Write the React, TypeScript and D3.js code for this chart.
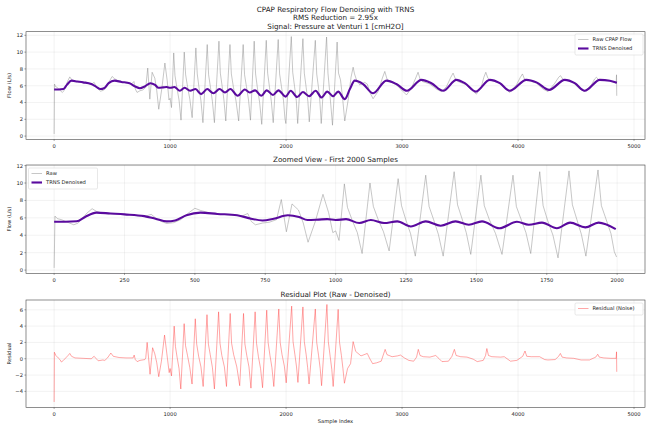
import React from 'react';
import * as d3 from 'd3';

type Pt = [number, number];

// raw CPAP flow as [sample, L/s]
const rawFlow: Pt[] = [
  [0, 0.25], [3, 6.2], [12, 5.9], [25, 5.8], [40, 5.6], [55, 5.4], [70, 5.2], [85, 5.4],
  [100, 5.9], [115, 6.5], [135, 7.05], [150, 6.75], [175, 6.5], [220, 6.45], [270, 6.35],
  [320, 6.15], [345, 6.4], [360, 6.0], [380, 5.6], [400, 5.35], [425, 5.45], [450, 5.8],
  [475, 6.5], [500, 7.1], [520, 6.85], [560, 6.5], [620, 6.35], [670, 6.25], [688, 6.5],
  [700, 5.6], [715, 5.2], [740, 5.4], [765, 5.5], [790, 5.8], [807, 8.1], [825, 4.4],
  [845, 7.6], [868, 6.9], [885, 5.4], [902, 3.2], [928, 5.6], [955, 8.7], [975, 6.6],
  [990, 4.3], [1000, 4.5], [1012, 3.4],
  [1031, 9.9], [1042, 7.2], [1058, 5.8], [1077, 4.3], [1094, 1.9],
  [1122, 10.0], [1134, 7.3], [1150, 5.9], [1170, 4.4], [1190, 2.2],
  [1222, 10.5], [1234, 7.4], [1250, 5.7], [1266, 4.2], [1283, 1.6],
  [1320, 10.9], [1332, 7.3], [1348, 5.8], [1365, 4.1], [1382, 1.6],
  [1421, 11.3], [1433, 7.5], [1449, 5.9], [1464, 4.3], [1480, 1.8],
  [1516, 10.9], [1528, 7.4], [1546, 5.8], [1568, 4.2], [1591, 1.8],
  [1630, 10.9], [1642, 7.3], [1658, 5.9], [1676, 4.3], [1693, 1.9],
  [1725, 11.3], [1737, 7.4], [1753, 5.7], [1772, 4.0], [1790, 1.4],
  [1829, 11.4], [1841, 7.5], [1857, 5.8], [1873, 4.1], [1889, 1.6],
  [1932, 11.5], [1944, 7.4], [1960, 5.9], [1978, 4.2], [1990, 2.1], [1998, 1.5],
  [2045, 11.85], [2057, 7.6], [2073, 5.9], [2088, 4.2], [2100, 1.5],
  [2145, 11.6], [2157, 7.5], [2173, 5.8], [2188, 4.1], [2200, 1.7],
  [2252, 11.4], [2264, 7.4], [2280, 5.7], [2292, 4.0], [2303, 1.5],
  [2349, 11.8], [2361, 7.5], [2377, 5.1], [2390, 3.0], [2400, 1.3],
  [2440, 11.2], [2452, 7.5], [2469, 6.7], [2486, 4.7], [2506, 1.8],
  [2535, 4.3], [2560, 7.0], [2578, 8.2], [2590, 7.4], [2607, 6.7], [2635, 6.1],
  [2678, 6.4], [2700, 6.2], [2722, 5.2], [2750, 4.45], [2793, 5.3], [2830, 6.9],
  [2851, 7.7], [2870, 6.8], [2894, 6.5], [2951, 6.1], [2995, 5.5], [3038, 4.9],
  [3081, 5.7], [3120, 7.0], [3138, 7.6], [3155, 6.8], [3176, 6.5], [3239, 6.2],
  [3296, 5.6], [3339, 5.3], [3383, 5.9], [3420, 7.0], [3440, 7.5], [3460, 6.8],
  [3483, 6.5], [3555, 6.1], [3598, 5.5], [3641, 5.0], [3684, 5.9], [3705, 7.0],
  [3722, 7.6], [3740, 6.9], [3756, 6.7], [3843, 6.3], [3886, 5.7], [3929, 5.2],
  [3986, 6.1], [4020, 7.0], [4038, 7.4], [4055, 6.8], [4078, 6.7], [4159, 6.3],
  [4216, 5.6], [4259, 5.3], [4317, 6.3], [4350, 7.0], [4366, 7.2], [4385, 6.8],
  [4403, 6.7], [4475, 6.4], [4532, 5.6], [4575, 5.3], [4633, 6.1], [4660, 6.8],
  [4676, 7.0], [4695, 6.7], [4719, 6.7], [4791, 6.6], [4846, 6.3], [4849, 7.3],
  [4851, 4.8],
];

// TRNS denoised output
const denoisedFlow: Pt[] = [
  [0, 5.55], [40, 5.55], [80, 5.6], [110, 6.1], [150, 6.6], [200, 6.5], [250, 6.4],
  [320, 6.2], [360, 5.9], [400, 5.6], [430, 5.7], [470, 6.3], [520, 6.6], [580, 6.45],
  [650, 6.3], [700, 5.9], [740, 5.7], [780, 5.9], [830, 6.3], [870, 6.1], [900, 5.75],
  [940, 5.8], [970, 5.85], [1000, 5.75], [1037, 5.85], [1084, 5.4], [1125, 5.75],
  [1172, 5.4], [1219, 5.6], [1267, 5.0], [1320, 5.6], [1373, 5.1], [1426, 5.6],
  [1473, 5.2], [1520, 5.6], [1582, 4.8], [1644, 5.55], [1686, 5.2], [1733, 5.45],
  [1786, 4.8], [1833, 5.45], [1887, 4.9], [1934, 5.45], [1995, 4.7], [2040, 5.4],
  [2095, 4.65], [2145, 5.25], [2198, 4.75], [2255, 5.4], [2306, 4.6], [2355, 5.3],
  [2405, 4.75], [2449, 5.3], [2506, 4.4], [2550, 5.6], [2592, 6.6], [2664, 6.2],
  [2750, 5.1], [2865, 6.6], [2951, 6.2], [3043, 5.4], [3167, 6.7], [3253, 6.3],
  [3354, 5.4], [3469, 6.7], [3541, 6.3], [3636, 5.3], [3756, 6.7], [3843, 6.3],
  [3929, 5.4], [4072, 6.7], [4159, 6.4], [4268, 5.5], [4403, 6.7], [4489, 6.3],
  [4575, 5.4], [4705, 6.7], [4791, 6.6], [4852, 6.35],
];

// residual (raw - denoised)
const residual: Pt[] = [
  [0, -5.3], [2, 0.8], [15, 0.4], [35, 0.1], [50, -0.1], [63, -0.4], [80, -0.2],
  [100, 0.1], [120, 0.4], [135, 0.65], [150, 0.3], [180, 0.1], [250, 0.05], [320, 0.0],
  [345, 0.3], [360, 0.05], [380, -0.25], [420, -0.15], [437, -0.2], [460, 0.1],
  [489, 0.7], [510, 0.3], [560, 0.15], [620, 0.1], [681, 0.1], [690, 0.45], [700, -0.1],
  [716, -0.35], [740, -0.2], [782, -0.1], [790, 0.1],
  [802, 2.0], [827, -1.9], [849, 1.35], [868, 0.6], [885, -0.5], [902, -2.2],
  [925, -0.3], [952, 2.9], [972, 0.6], [992, -1.7], [1000, -1.2], [1012, -2.1],
  [1035, 4.0], [1046, 1.5], [1060, 0.2], [1077, -1.2], [1092, -3.7],
  [1121, 4.3], [1133, 1.6], [1150, 0.4], [1170, -1.1], [1189, -3.1],
  [1217, 4.9], [1229, 1.8], [1246, 0.3], [1266, -1.0], [1285, -3.4],
  [1318, 5.4], [1330, 1.8], [1346, 0.5], [1365, -1.1], [1382, -3.7],
  [1418, 5.75], [1430, 1.9], [1446, 0.4], [1468, -1.0], [1486, -3.4],
  [1518, 5.55], [1530, 1.9], [1548, 0.5], [1575, -1.0], [1600, -3.3],
  [1633, 5.55], [1645, 1.8], [1661, 0.4], [1680, -1.0], [1697, -3.6],
  [1733, 5.75], [1745, 1.9], [1761, 0.3], [1780, -1.2], [1797, -3.55],
  [1833, 5.95], [1845, 2.0], [1861, 0.4], [1878, -1.1], [1894, -3.4],
  [1937, 6.1], [1949, 2.0], [1965, 0.5], [1985, -0.9], [2001, -2.95],
  [2048, 6.45], [2060, 2.1], [2076, 0.5], [2090, -1.0], [2102, -2.9],
  [2145, 6.35], [2157, 2.1], [2173, 0.5], [2186, -1.1], [2198, -3.1],
  [2252, 6.1], [2264, 2.0], [2280, 0.4], [2294, -1.2], [2306, -3.3],
  [2352, 6.65], [2364, 2.1], [2380, 0.3], [2394, -1.3], [2406, -3.4],
  [2449, 6.05], [2461, 2.0], [2477, 0.4], [2490, -1.2], [2503, -3.0],
  [2530, -1.2], [2556, -0.6], [2578, 2.1], [2600, 0.9], [2646, 0.35], [2700, 0.65],
  [2722, 0.0], [2746, -0.6], [2780, -0.5], [2820, -0.3], [2854, 1.15], [2870, 0.5],
  [2914, 0.25], [2960, 0.35], [2986, 0.45], [3020, 0.1], [3058, -0.2], [3100, -0.3],
  [3125, 0.2], [3140, 1.15], [3155, 0.4], [3183, 0.25], [3240, 0.2], [3290, 0.4],
  [3320, 0.0], [3344, -0.35], [3400, -0.3], [3430, 0.3], [3451, 1.15], [3466, 0.4],
  [3505, 0.25], [3560, 0.2], [3613, -0.05], [3648, -0.35], [3700, -0.2], [3720, 0.4],
  [3731, 1.25], [3745, 0.4], [3774, 0.25], [3850, 0.2], [3881, 0.25], [3935, -0.3],
  [3990, -0.2], [4040, 0.3], [4060, 0.95], [4075, 0.3], [4114, 0.25], [4186, 0.25],
  [4230, -0.1], [4257, -0.15], [4320, -0.1], [4350, 0.3], [4365, 0.65], [4380, 0.2],
  [4418, 0.1], [4480, 0.05], [4544, -0.15], [4615, -0.15], [4670, 0.2], [4687, 0.55],
  [4700, 0.2], [4740, 0.1], [4800, 0.05], [4846, 0.05], [4849, 0.85], [4851, -1.6],
];

const fullTicks = [0, 1000, 2000, 3000, 4000, 5000];
const zoomTicks = [0, 250, 500, 750, 1000, 1250, 1500, 1750, 2000];
const flowTicks = [0, 2, 4, 6, 8, 10, 12];
const residualTicks = [-4, -2, 0, 2, 4, 6];

const FONT = 'DejaVu Sans, sans-serif';
const RAW = '#8a8a8a';
const PURPLE = '#5a0a9e';
const RED = '#ff3b3b';

type Series = { data: Pt[]; color: string; width: number; opacity: number; smooth?: boolean; label: string };

type PanelProps = {
  id: string;
  top: number;
  bottom: number;
  xDomain: [number, number];
  yDomain: [number, number];
  xTicks: number[];
  yTicks: number[];
  title: string[];
  ylabel: string;
  xlabel?: string;
  series: Series[];
  legend: { x: number; y: number; w: number };
};

const LEFT = 26;
const RIGHT = 645;

const Panel = (p: PanelProps) => {
  const x = d3.scaleLinear().domain(p.xDomain).range([LEFT, RIGHT]);
  const y = d3.scaleLinear().domain(p.yDomain).range([p.bottom, p.top]);
  const rowH = 9;
  const boxH = p.series.length * rowH + 3;
  return (
    <g>
      <defs>
        <clipPath id={p.id}>
          <rect x={LEFT} y={p.top} width={RIGHT - LEFT} height={p.bottom - p.top} />
        </clipPath>
      </defs>
      {p.xTicks.map((t) => (
        <line key={'gx' + t} x1={x(t)} x2={x(t)} y1={p.top} y2={p.bottom} stroke="#b0b0b0" strokeOpacity={0.4} strokeWidth={0.4} />
      ))}
      {p.yTicks.map((t) => (
        <line key={'gy' + t} x1={LEFT} x2={RIGHT} y1={y(t)} y2={y(t)} stroke="#b0b0b0" strokeOpacity={0.4} strokeWidth={0.4} />
      ))}
      <g clipPath={`url(#${p.id})`}>
        {p.series.map((s) => {
          const line = d3
            .line<Pt>()
            .x((d) => x(d[0]))
            .y((d) => y(d[1]))
            .curve(s.smooth ? d3.curveMonotoneX : d3.curveLinear);
          return (
            <path key={s.label} d={line(s.data) || ''} fill="none" stroke={s.color} strokeWidth={s.width} strokeOpacity={s.opacity} strokeLinejoin="round" />
          );
        })}
      </g>
      <rect x={LEFT} y={p.top} width={RIGHT - LEFT} height={p.bottom - p.top} fill="none" stroke="#444" strokeWidth={0.6} />
      {p.xTicks.map((t) => (
        <g key={'tx' + t}>
          <line x1={x(t)} x2={x(t)} y1={p.bottom} y2={p.bottom + 1.6} stroke="#444" strokeWidth={0.5} />
          <text x={x(t)} y={p.bottom + 8.2} fontSize={5.2} textAnchor="middle" fill="#222" fontFamily={FONT}>
            {t}
          </text>
        </g>
      ))}
      {p.yTicks.map((t) => (
        <g key={'ty' + t}>
          <line x1={LEFT - 1.6} x2={LEFT} y1={y(t)} y2={y(t)} stroke="#444" strokeWidth={0.5} />
          <text x={LEFT - 3} y={y(t) + 1.9} fontSize={5.2} textAnchor="end" fill="#222" fontFamily={FONT}>
            {t < 0 ? '\u2212' + Math.abs(t) : t}
          </text>
        </g>
      ))}
      <text
        transform={`translate(10.5,${(p.top + p.bottom) / 2}) rotate(-90)`}
        fontSize={5.2}
        textAnchor="middle"
        fill="#222"
        fontFamily={FONT}
      >
        {p.ylabel}
      </text>
      {p.xlabel && (
        <text x={(LEFT + RIGHT) / 2} y={p.bottom + 16} fontSize={5.2} textAnchor="middle" fill="#222" fontFamily={FONT}>
          {p.xlabel}
        </text>
      )}
      {p.title.map((line, i) => (
        <text
          key={line}
          x={(LEFT + RIGHT) / 2}
          y={p.top - 3 - (p.title.length - 1 - i) * 8.6}
          fontSize={7.2}
          textAnchor="middle"
          fill="#222"
          fontFamily={FONT}
        >
          {line}
        </text>
      ))}
      <g>
        <rect x={p.legend.x} y={p.legend.y} width={p.legend.w} height={boxH} rx={1.2} fill="#fff" fillOpacity={0.8} stroke="#d0d0d0" strokeWidth={0.5} />
        {p.series.map((s, i) => {
          const cy = p.legend.y + 5.5 + i * rowH;
          return (
            <g key={'lg' + s.label}>
              <line x1={p.legend.x + 3} x2={p.legend.x + 13.5} y1={cy} y2={cy} stroke={s.color} strokeWidth={s.width} strokeOpacity={s.opacity} />
              <text x={p.legend.x + 17.5} y={cy + 1.9} fontSize={5.2} fill="#222" fontFamily={FONT}>
                {s.label}
              </text>
            </g>
          );
        })}
      </g>
    </g>
  );
};

const fullDomain: [number, number] = [-242.6, 5094.6];
const zoomDomain: [number, number] = [-99.95, 2098.95];
const firstPart = (d: Pt[]) => d.filter((p) => p[0] < 2000);

export default function App() {
  return (
    <svg width={650} height={431} style={{ position: 'absolute', left: 0, top: 0, background: '#fff' }}>
      <rect width={650} height={431} fill="#fff" />
      <Panel
        id="c1"
        top={31.7}
        bottom={139.3}
        xDomain={fullDomain}
        yDomain={[-0.38, 12.43]}
        xTicks={fullTicks}
        yTicks={flowTicks}
        title={['CPAP Respiratory Flow Denoising with TRNS', 'RMS Reduction = 2.95x', 'Signal: Pressure at Venturi 1 [cmH2O]']}
        ylabel="Flow (L/s)"
        series={[
          { data: rawFlow, color: RAW, width: 0.6, opacity: 0.8, label: 'Raw CPAP Flow' },
          { data: denoisedFlow, color: PURPLE, width: 2.1, opacity: 1, smooth: true, label: 'TRNS Denoised' },
        ]}
        legend={{ x: 575, y: 34, w: 68 }}
      />
      <Panel
        id="c2"
        top={165}
        bottom={273.3}
        xDomain={zoomDomain}
        yDomain={[-0.37, 12.07]}
        xTicks={zoomTicks}
        yTicks={flowTicks}
        title={['Zoomed View - First 2000 Samples']}
        ylabel="Flow (L/s)"
        series={[
          { data: firstPart(rawFlow), color: RAW, width: 0.6, opacity: 0.8, label: 'Raw' },
          { data: firstPart(denoisedFlow), color: PURPLE, width: 2.1, opacity: 1, smooth: true, label: 'TRNS Denoised' },
        ]}
        legend={{ x: 28.5, y: 168, w: 69 }}
      />
      <Panel
        id="c3"
        top={300}
        bottom={407.3}
        xDomain={fullDomain}
        yDomain={[-5.95, 7.2]}
        xTicks={fullTicks}
        yTicks={residualTicks}
        title={['Residual Plot (Raw - Denoised)']}
        ylabel="Residual"
        xlabel="Sample Index"
        series={[{ data: residual, color: RED, width: 0.6, opacity: 0.75, label: 'Residual (Noise)' }]}
        legend={{ x: 575, y: 303, w: 68 }}
      />
    </svg>
  );
}
